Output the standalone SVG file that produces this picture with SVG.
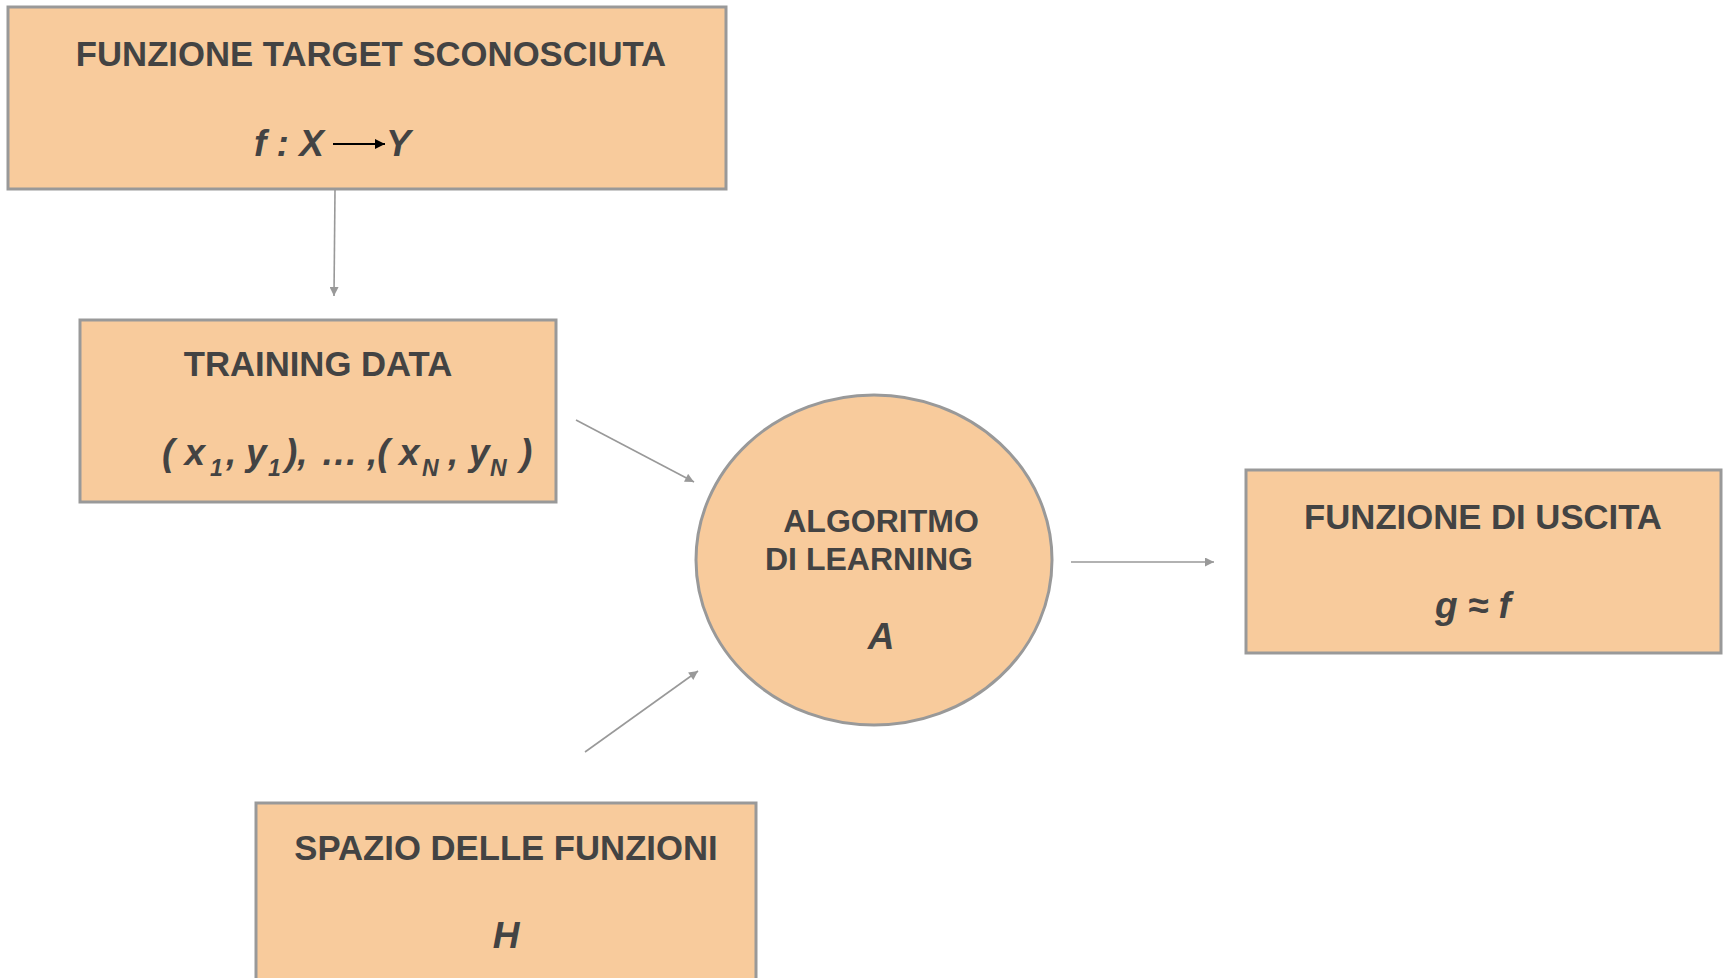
<svg xmlns="http://www.w3.org/2000/svg" width="1723" height="978" viewBox="0 0 1723 978">
  <style>
    .box { fill: #f8cb9c; stroke: #999999; stroke-width: 3; }
    .title { font-family: "Liberation Sans", Arial, sans-serif; font-weight: bold; font-size: 34.7px; fill: #434343; text-anchor: middle; }
    .inner { font-size: 32px; }
    .math { font-family: "Liberation Sans", Arial, sans-serif; font-weight: bold; font-style: italic; font-size: 37px; fill: #434343; }
    .sub { font-size: 23px; }
    .conn { stroke: #999999; stroke-width: 1.6; fill: none; marker-end: url(#arrowGray); }
  </style>
  <defs>
    <marker id="arrowGray" viewBox="0 0 10 10" refX="10" refY="5" markerWidth="10" markerHeight="9" markerUnits="userSpaceOnUse" orient="auto">
      <path d="M0,0 L10,5 L0,10 z" fill="#999999"/>
    </marker>
    <marker id="arrowBlack" viewBox="0 0 10 10" refX="10" refY="5" markerWidth="12" markerHeight="10" markerUnits="userSpaceOnUse" orient="auto">
      <path d="M0,0 L10,5 L0,10 z" fill="#000000"/>
    </marker>
  </defs>
  <rect width="1723" height="978" fill="#ffffff"/>

  <!-- connectors -->
  <g id="connectors">
    <line class="conn" x1="335" y1="190" x2="334" y2="296"/>
    <line class="conn" x1="576" y1="420" x2="694" y2="482"/>
    <line class="conn" x1="585" y1="752" x2="698" y2="671"/>
    <line class="conn" x1="1071" y1="562" x2="1214" y2="562"/>
  </g>

  <!-- unknown target function -->
  <g id="target-function">
    <rect class="box" x="8" y="7" width="718" height="182"/>
    <text class="title" x="371" y="66">FUNZIONE TARGET SCONOSCIUTA</text>
    <text class="math" x="254" y="156">f : X</text>
    <line x1="333" y1="144" x2="385" y2="144" stroke="#000000" stroke-width="2" marker-end="url(#arrowBlack)"/>
    <text class="math" x="386" y="156">Y</text>
  </g>

  <!-- training data -->
  <g id="training-data">
    <rect class="box" x="80" y="320" width="476" height="182"/>
    <text class="title" x="318" y="376">TRAINING DATA</text>
    <text class="math" y="465"><tspan x="162">( x</tspan><tspan class="sub" x="210" y="476">1</tspan><tspan x="226" y="465">,</tspan><tspan x="246">y</tspan><tspan class="sub" x="268" y="476">1</tspan><tspan x="285" y="465">),</tspan><tspan x="321">…</tspan><tspan x="367">,(</tspan><tspan x="399">x</tspan><tspan class="sub" x="422" y="476">N</tspan><tspan x="448" y="465">,</tspan><tspan x="469">y</tspan><tspan class="sub" x="490" y="476">N</tspan><tspan x="520" y="465">)</tspan></text>
  </g>

  <!-- learning algorithm -->
  <g id="learning-algorithm">
    <ellipse class="box" cx="874" cy="560" rx="178" ry="165"/>
    <text class="title inner" x="881" y="532">ALGORITMO</text>
    <text class="title inner" x="869" y="570">DI LEARNING</text>
    <text class="math" x="881" y="649" text-anchor="middle">A</text>
  </g>

  <!-- output function -->
  <g id="output-function">
    <rect class="box" x="1246" y="470" width="475" height="183"/>
    <text class="title" x="1483" y="529">FUNZIONE DI USCITA</text>
    <text class="math" x="1473" y="618" text-anchor="middle">g ≈ f</text>
  </g>

  <!-- hypothesis space -->
  <g id="hypothesis-space">
    <rect class="box" x="256" y="803" width="500" height="185"/>
    <text class="title" x="506" y="860">SPAZIO DELLE FUNZIONI</text>
    <text class="math" x="506" y="948" text-anchor="middle">H</text>
  </g>
</svg>
